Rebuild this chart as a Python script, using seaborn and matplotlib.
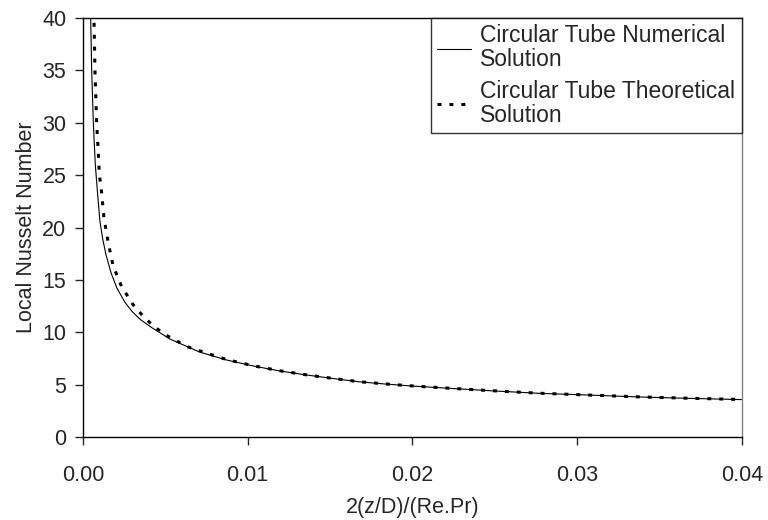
import pandas as pd
import matplotlib
matplotlib.use("Agg")
import matplotlib.pyplot as plt
import seaborn as sns

# Values
num_x = [0.00042, 0.00047, 0.00053, 0.00063, 0.00075, 0.00087, 0.00103, 0.0012, 0.0014,
         0.0017, 0.00205, 0.00255, 0.003, 0.0035, 0.00417, 0.00528, 0.0071, 0.00872,
         0.01034, 0.01196, 0.01358, 0.0151, 0.0167, 0.01833, 0.01995, 0.0216, 0.0247,
         0.0277, 0.0308, 0.0338, 0.0368, 0.04]
num_y = [42, 40, 35, 30, 26, 23.6, 20.6, 18.9, 17.4,
         15.7, 14.25, 12.85, 11.95, 11.2, 10.45, 9.35, 8.1, 7.35,
         6.78, 6.3, 5.92, 5.6, 5.28, 5.06, 4.87, 4.71, 4.42,
         4.17, 4.0, 3.82, 3.69, 3.57]

theo_x = [0.00064, 0.00067, 0.00073, 0.00083, 0.00092, 0.001, 0.00113, 0.00127, 0.00154,
          0.00184, 0.00235, 0.00306, 0.00362, 0.00417, 0.00492, 0.00633, 0.0079, 0.00872,
          0.01034, 0.01196, 0.01358, 0.0151, 0.0167, 0.01833, 0.01995, 0.0216, 0.0247,
          0.0277, 0.0308, 0.0338, 0.0368, 0.04]
theo_y = [42, 40, 35, 30, 27.5, 25, 23.4, 21.0, 18.5,
          16.3, 14.35, 12.6, 11.6, 10.75, 9.83, 8.62, 7.8, 7.4,
          6.8, 6.32, 5.93, 5.61, 5.29, 5.07, 4.88, 4.72, 4.43,
          4.18, 4.0, 3.83, 3.7, 3.58]

x_ticks = [0.00, 0.01, 0.02, 0.03, 0.04]
y_ticks = [0, 5, 10, 15, 20, 25, 30, 35, 40]

labels = ['Circular Tube Numerical\nSolution', 'Circular Tube Theoretical\nSolution']

df_num = pd.DataFrame({'x': num_x, 'y': num_y})
df_theo = pd.DataFrame({'x': theo_x, 'y': theo_y})

sns.set_style("white")
plt.rcParams['font.family'] = ['Liberation Sans', 'DejaVu Sans']
fs = 15.5

fig = plt.figure(figsize=(7.68, 5.2), dpi=100)
ax = fig.add_axes([0.108, 0.1596, 0.858, 0.8058])

sns.lineplot(data=df_num, x='x', y='y', ax=ax, color='black', linewidth=0.8,
             label=labels[0], sort=False)
sns.lineplot(data=df_theo, x='x', y='y', ax=ax, color='black', linewidth=2.2,
             linestyle=(0, (1.3, 2.6)), label=labels[1], sort=False)

ax.set_xlim(0, 0.04)
ax.set_ylim(0, 40)
ax.set_xticks(x_ticks)
ax.set_xticklabels([f'{v:.2f}' for v in x_ticks])
ax.set_yticks(y_ticks)
ax.set_xlabel('2(z/D)/(Re.Pr)', fontsize=fs, labelpad=8)
ax.set_ylabel('Local Nusselt Number', fontsize=fs, labelpad=4)

ax.tick_params(axis='x', direction='out', length=6, width=1, pad=14, labelsize=fs, bottom=True)
ax.tick_params(axis='y', direction='out', length=6, width=1, pad=6, labelsize=fs, left=True)

for side in ['left', 'bottom', 'top']:
    ax.spines[side].set_color('black')
    ax.spines[side].set_linewidth(1)
ax.spines['right'].set_color('#808080')
ax.spines['right'].set_linewidth(1)

leg = ax.legend(loc='upper right', bbox_to_anchor=(1.0, 1.0), frameon=True, fancybox=False,
                edgecolor='black', fontsize=16.5, handlelength=1.5, handletextpad=0.4,
                borderaxespad=0, labelspacing=0.38, borderpad=0.28)
leg.get_frame().set_linewidth(1)
for t in leg.get_texts():
    t.set_linespacing(1.05)

fig.savefig('out.png', dpi=100)
